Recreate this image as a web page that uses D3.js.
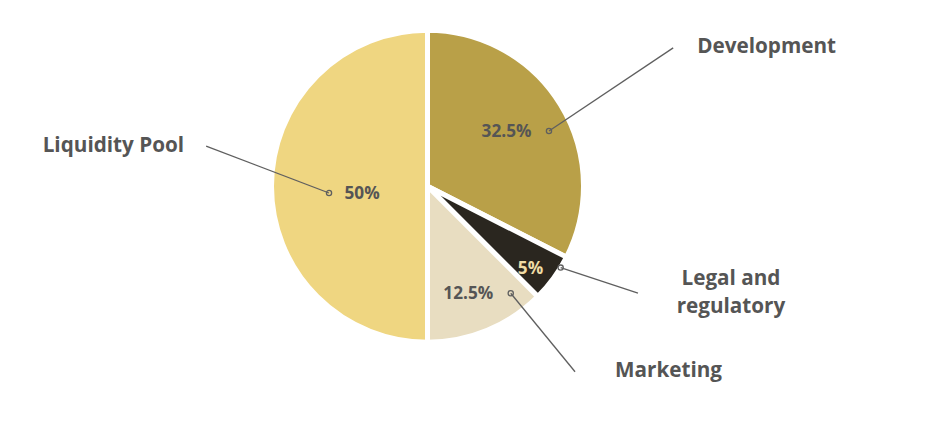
<!DOCTYPE html>
<html>
<head>
<meta charset="utf-8">
<script src="https://cdn.jsdelivr.net/npm/d3@7"></script>
<style>
  html, body { margin: 0; padding: 0; background: #fff; }
  svg { display: block; }
  text { font-family: "Open Sans", "Noto Sans", sans-serif; font-weight: 700; }
</style>
</head>
<body>
<svg id="chart" width="943" height="422"></svg>
<script>
// ---- data ----
const categories = ["Development", "Legal and regulatory", "Marketing", "Liquidity Pool"];
const values = [32.5, 5, 12.5, 50];
const valueLabels = ["32.5%", "5%", "12.5%", "50%"];
const nameLines = [["Development"], ["Legal and", "regulatory"], ["Marketing"], ["Liquidity Pool"]];
const colors = ["#b9a048", "#2a261f", "#e8ddc1", "#efd681"];
const valueColors = ["#555555", "#efdca6", "#555555", "#555555"];

// ---- layout (annotation placement, polar from pie centre) ----
const labelLayout = [
  { dotA: 65.5, dotR: 133.5, endA: 60.6, endR: 282, side: "R", txtDx: 24, txtDy: 5, anchor: "start" },
  { dotA: 121.4, dotR: 156, endA: 116.9, endR: 236, side: "R", txtDx: 93, txtDy: -8, anchor: "middle" },
  { dotA: 142.1, dotR: 135.5, endA: 141.5, endR: 237, side: "R", txtDx: 40, txtDy: 5, anchor: "start" },
  { dotA: 266.1, dotR: 98.7, endA: 280.3, endR: 225, side: "L", txtDx: -22, txtDy: 6, anchor: "end" }
];

const svg = d3.select("#chart");
const cx = 427.5, cy = 186.3, radius = 156;
const g = svg.append("g").attr("transform", `translate(${cx},${cy})`);

const pie = d3.pie().sort(null).value(d => d)(values);
const arc = d3.arc().innerRadius(0).outerRadius(radius);

g.selectAll("path.slice")
  .data(pie)
  .join("path")
  .attr("class", "slice")
  .attr("d", arc)
  .attr("fill", (d, i) => colors[i])
  .attr("stroke", "#fff")
  .attr("stroke-width", 5)
  .attr("stroke-linejoin", "miter");

const rad = a => a * Math.PI / 180;

pie.forEach((d, i) => {
  const L = labelLayout[i];
  const dot = d3.pointRadial(rad(L.dotA), L.dotR);
  const end = d3.pointRadial(rad(L.endA), L.endR);

  g.append("line")
    .attr("x1", dot[0]).attr("y1", dot[1])
    .attr("x2", end[0]).attr("y2", end[1])
    .attr("stroke", "#5f5f5f").attr("stroke-width", 1.3);

  g.append("circle")
    .attr("cx", dot[0]).attr("cy", dot[1]).attr("r", 2.6)
    .attr("fill", "none").attr("stroke", "#5f5f5f").attr("stroke-width", 1.3);

  // value label
  g.append("text")
    .attr("x", L.side === "R" ? dot[0] - 17.5 : dot[0] + 15.5)
    .attr("y", dot[1] + 6)
    .attr("text-anchor", L.side === "R" ? "end" : "start")
    .attr("font-size", 17.2)
    .attr("fill", valueColors[i])
    .text(valueLabels[i]);

  // category label
  const t = g.append("text")
    .attr("x", end[0] + L.txtDx)
    .attr("y", end[1] + L.txtDy)
    .attr("text-anchor", L.anchor)
    .attr("font-size", 20.7)
    .attr("fill", "#555555");
  nameLines[i].forEach((ln, k) => {
    t.append("tspan")
      .attr("x", end[0] + L.txtDx)
      .attr("dy", k === 0 ? 0 : 28)
      .text(ln);
  });
});
</script>
</body>
</html>
